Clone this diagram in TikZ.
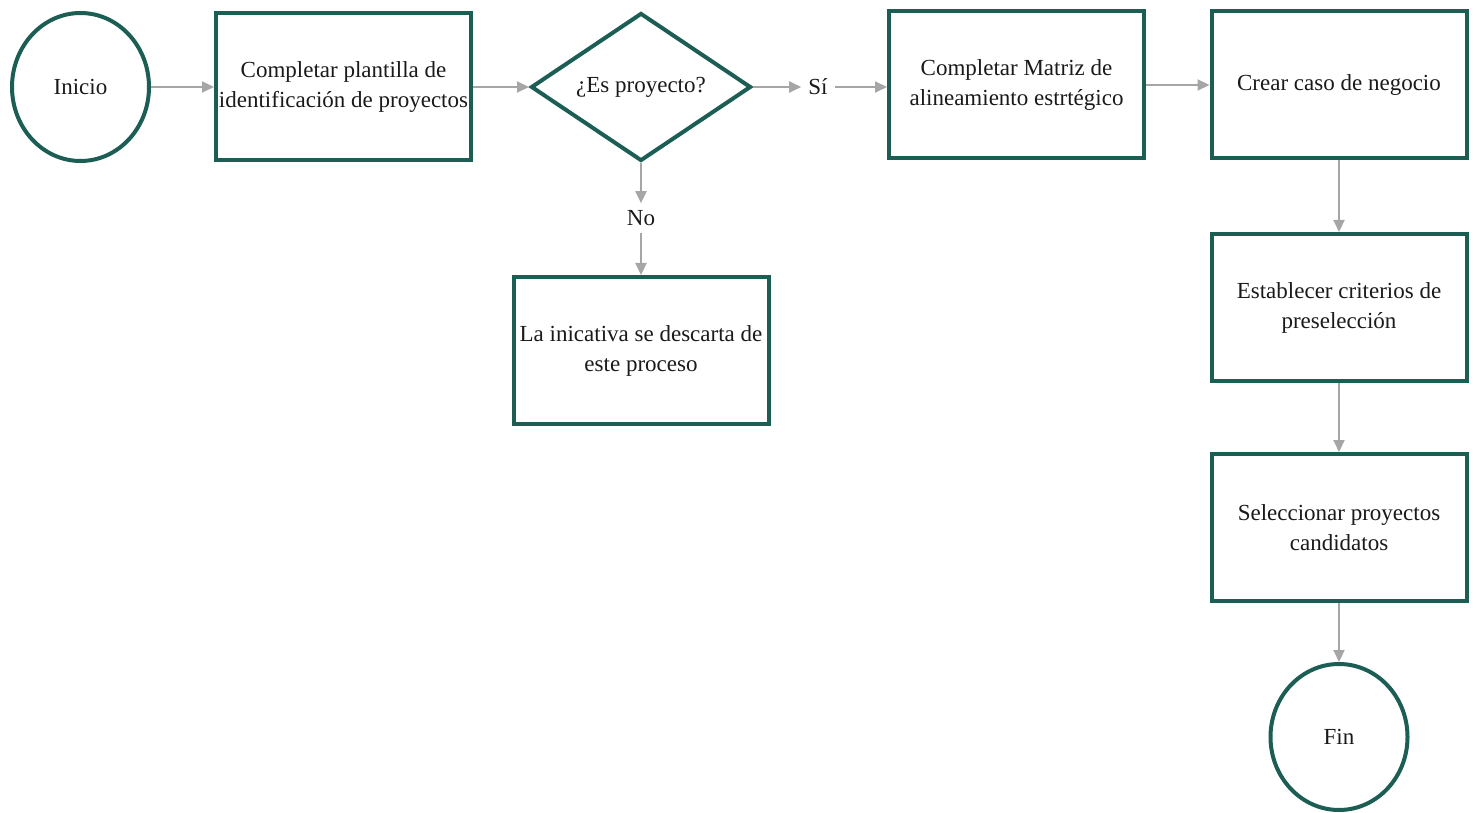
\documentclass[tikz,border=0pt]{standalone}
\usepackage{fontspec}
\setmainfont{Liberation Serif}
\usetikzlibrary{shapes.geometric,arrows.meta}
\definecolor{teal1}{HTML}{1D5E54}
\definecolor{arrowgray}{HTML}{A6A6A6}
\definecolor{txt}{HTML}{1A1A1A}
\begin{document}
\begin{tikzpicture}[x=1pt,y=-1pt,
  every node/.style={font=\fontsize{23}{30}\selectfont, text=txt},
  procbox/.style={draw=teal1, line width=4pt, rectangle, minimum width=255pt, minimum height=147pt, inner sep=2pt, align=center, fill=white},
  termcirc/.style={draw=teal1, line width=4pt, ellipse, minimum width=137pt, minimum height=148pt, inner sep=0pt},
  decide/.style={draw=teal1, line width=4pt, diamond, aspect=1.5, minimum width=220pt, minimum height=148pt, inner sep=0pt},
  lbl/.style={inner sep=7pt},
  flow/.style={draw=arrowgray, line width=2pt, -{Triangle[length=12pt,width=11pt]}}
]
\useasboundingbox (0,0) rectangle (1476,813);
\node[termcirc] (inicio) at (80.5,87) {Inicio};
\node[procbox] (plantilla) at (343.5,87) {Completar plantilla de\\identificación de proyectos};
\node[decide] (esproy) at (641,87) {¿Es proyecto?};
\node[lbl] (si) at (818,87) {Sí};
\node[procbox] (matriz) at (1016.5,85) {Completar Matriz de\\alineamiento estrtégico};
\node[procbox] (caso) at (1339,85) {Crear caso de negocio};
\node[procbox] (criterios) at (1339,307.5) {Establecer criterios de\\preselección};
\node[procbox] (selec) at (1339,527.5) {Seleccionar proyectos\\candidatos};
\node[termcirc, minimum height=146pt] (fin) at (1339,737) {Fin};
\node[lbl] (no) at (641,218) {No};
\node[procbox] (descarta) at (641,350.5) {La inicativa se descarta de\\este proceso};

\draw[flow] (inicio.east) -- (plantilla.west);
\draw[flow] (plantilla.east) -- (esproy.west);
\draw[flow] (esproy.east) -- (si.west);
\draw[flow] (si.east) -- (matriz.west |- si.east);
\draw[flow] (matriz.east) -- (caso.west);
\draw[flow] (caso.south) -- (criterios.north);
\draw[flow] (criterios.south) -- (selec.north);
\draw[flow] (selec.south) -- (fin.north);
\draw[flow] (esproy.south) -- (no.north);
\draw[flow] (no.south) -- (descarta.north);
\end{tikzpicture}
\end{document}
